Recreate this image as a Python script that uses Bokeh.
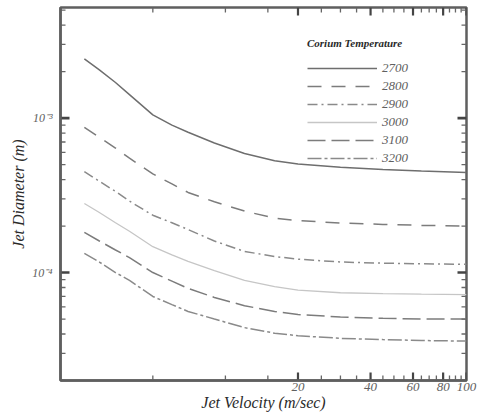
import math
from bokeh.plotting import figure
from bokeh.models import (FixedTicker, CustomJSTickFormatter, Legend,
                          LegendItem, Range1d)
from bokeh.embed import file_html
from bokeh.resources import INLINE

velocity = [2.6, 3, 3.5, 4, 5, 6, 7, 9, 12, 16, 20, 30, 45, 65, 100]
d2700 = [2.42e-3, 2.05e-3, 1.7e-3, 1.42e-3, 1.05e-3, 9.0e-4, 8.1e-4, 6.9e-4, 5.9e-4,
         5.3e-4, 5.05e-4, 4.8e-4, 4.65e-4, 4.55e-4, 4.45e-4]
d2800 = [8.7e-4, 7.5e-4, 6.4e-4, 5.5e-4, 4.35e-4, 3.75e-4, 3.3e-4, 2.87e-4, 2.5e-4,
         2.25e-4, 2.17e-4, 2.09e-4, 2.05e-4, 2.02e-4, 2.0e-4]
d2900 = [4.5e-4, 3.9e-4, 3.35e-4, 2.9e-4, 2.35e-4, 2.1e-4, 1.9e-4, 1.6e-4, 1.37e-4,
         1.27e-4, 1.22e-4, 1.17e-4, 1.15e-4, 1.14e-4, 1.13e-4]
d3000 = [2.8e-4, 2.45e-4, 2.1e-4, 1.85e-4, 1.47e-4, 1.3e-4, 1.18e-4, 1.03e-4, 8.9e-5,
         8.1e-5, 7.7e-5, 7.4e-5, 7.3e-5, 7.25e-5, 7.2e-5]
d3100 = [1.82e-4, 1.6e-4, 1.4e-4, 1.25e-4, 1.0e-4, 8.8e-5, 7.9e-5, 6.9e-5, 6.1e-5,
         5.6e-5, 5.35e-5, 5.15e-5, 5.05e-5, 5.0e-5, 5.0e-5]
d3200 = [1.33e-4, 1.17e-4, 1.0e-4, 8.9e-5, 7.0e-5, 6.2e-5, 5.6e-5, 5.0e-5, 4.4e-5,
         4.05e-5, 3.9e-5, 3.75e-5, 3.68e-5, 3.63e-5, 3.6e-5]
labels = ["2700", "2800", "2900", "3000", "3100", "3200"]

x_major = [20, 40, 60, 80, 100]
x_minor = [5, 10, 15, 25, 30, 35, 45, 50, 55, 65, 70, 75, 85, 90, 95]
y_major = [1e-4, 1e-3]
y_minor = [2e-5, 3e-5, 4e-5, 5e-5, 6e-5, 7e-5, 8e-5, 9e-5,
           2e-4, 3e-4, 4e-4, 5e-4, 6e-4, 7e-4, 8e-4, 9e-4,
           2e-3, 3e-3, 4e-3, 5e-3]

SERIF = "Liberation Serif"
TXT = "#606060"
FRAME = "#5f5f5f"
TICK_MAJ = "#444444"
TICK_MIN = "#666666"

W, H = 480, 418
BL, BR, BT, BB = 60, 14, 7, 38
xr = Range1d(2.07, 100)
yr = Range1d(2e-5, 5.2e-3)

p = figure(width=W, height=H, x_axis_type="log", y_axis_type="log",
           x_range=xr, y_range=yr,
           output_backend="svg", toolbar_location=None,
           min_border_left=BL, min_border_right=BR, min_border_top=BT,
           min_border_bottom=BB)
p.xgrid.visible = False
p.ygrid.visible = False
p.outline_line_color = FRAME
p.outline_line_width = 2.5
p.background_fill_color = "white"
p.border_fill_color = "white"

styles = [
    dict(line_color="#6e6e6e", line_dash="solid", line_width=1.5),
    dict(line_color="#7c7c7c", line_dash="14 10", line_width=1.5),
    dict(line_color="#8a8a8a", line_dash="10 4 2 4", line_width=1.5),
    dict(line_color="#c6c6c6", line_dash="solid", line_width=1.3),
    dict(line_color="#7c7c7c", line_dash="18 6", line_width=1.5),
    dict(line_color="#8a8a8a", line_dash="14 3 3 3", line_width=1.5),
]
series = [d2700, d2800, d2900, d3000, d3100, d3200]
renderers = []
for ys, st in zip(series, styles):
    renderers.append(p.line(velocity, ys, **st))

# inward tick marks on all four sides; tick length is given in pixels and
# converted to a multiplicative step on each log axis
frame_w = W - BL - BR
frame_h = H - BT - BB
ppd_x = frame_w / math.log10(xr.end / xr.start)
ppd_y = frame_h / math.log10(yr.end / yr.start)


def xstep(px):
    return 10 ** (px / ppd_x)


def ystep(px):
    return 10 ** (px / ppd_y)


def vticks(ticks, length, lw, color):
    n = len(ticks)
    p.segment(ticks, [yr.start] * n, ticks, [yr.start * ystep(length)] * n,
              line_color=color, line_width=lw)
    p.segment(ticks, [yr.end] * n, ticks, [yr.end / ystep(length)] * n,
              line_color=color, line_width=lw)


def hticks(ticks, length, lw, color):
    n = len(ticks)
    p.segment([xr.start] * n, ticks, [xr.start * xstep(length)] * n, ticks,
              line_color=color, line_width=lw)
    p.segment([xr.end] * n, ticks, [xr.end / xstep(length)] * n, ticks,
              line_color=color, line_width=lw)


vticks(x_major, 8, 2.2, TICK_MAJ)
vticks(x_minor, 5, 1.3, TICK_MIN)
hticks(y_major, 9, 2.6, TICK_MAJ)
hticks(y_minor, 5, 1.3, TICK_MIN)

xt = FixedTicker(ticks=x_major, minor_ticks=x_minor)
yt = FixedTicker(ticks=y_major, minor_ticks=y_minor)
xfmt = CustomJSTickFormatter(code="return tick.toFixed(0);")
yfmt = CustomJSTickFormatter(code="""
const e = Math.round(Math.log10(tick));
const s = {'-':'\u207b','0':'\u2070','1':'\u00b9','2':'\u00b2','3':'\u00b3','4':'\u2074','5':'\u2075','6':'\u2076','7':'\u2077','8':'\u2078','9':'\u2079'};
return '10' + String(e).split('').map(c => s[c]).join('');
""")

for ax, tk, fm in ((p.xaxis[0], xt, xfmt), (p.yaxis[0], yt, yfmt)):
    ax.ticker = tk
    ax.formatter = fm
    ax.axis_line_color = FRAME
    ax.axis_line_width = 2.5
    ax.major_tick_in = 0
    ax.major_tick_out = 0
    ax.minor_tick_in = 0
    ax.minor_tick_out = 0
    ax.major_label_text_font = SERIF
    ax.major_label_text_font_style = "italic"
    ax.major_label_text_color = TXT
    ax.axis_label_text_font = SERIF
    ax.axis_label_text_font_style = "italic"
    ax.axis_label_text_font_size = "16px"
    ax.axis_label_text_color = "#2a2a2a"

p.xaxis[0].axis_label = "Jet Velocity (m/sec)"
p.xaxis[0].major_label_text_font_size = "13px"
p.xaxis[0].major_label_standoff = 2
p.xaxis[0].axis_label_standoff = 0
p.yaxis[0].axis_label = "Jet Diameter (m)"
p.yaxis[0].major_label_text_font_size = "12px"
p.yaxis[0].major_label_standoff = 8
p.yaxis[0].axis_label_standoff = 2

legend = Legend(items=[LegendItem(label=l, renderers=[r]) for l, r in zip(labels, renderers)],
                title="Corium Temperature", location=(247, 213))
legend.title_text_font = SERIF
legend.title_text_font_style = "bold italic"
legend.title_text_font_size = "11px"
legend.title_text_color = "#2a2a2a"
legend.title_standoff = 10
legend.label_text_font = SERIF
legend.label_text_font_style = "italic"
legend.label_text_font_size = "13px"
legend.label_text_color = TXT
legend.glyph_width = 70
legend.glyph_height = 18
legend.label_height = 18
legend.label_standoff = 5
legend.spacing = 0
legend.padding = 0
legend.margin = 0
legend.border_line_color = None
legend.background_fill_alpha = 0
p.add_layout(legend)

open("out.html", "w").write(file_html(p, INLINE))
